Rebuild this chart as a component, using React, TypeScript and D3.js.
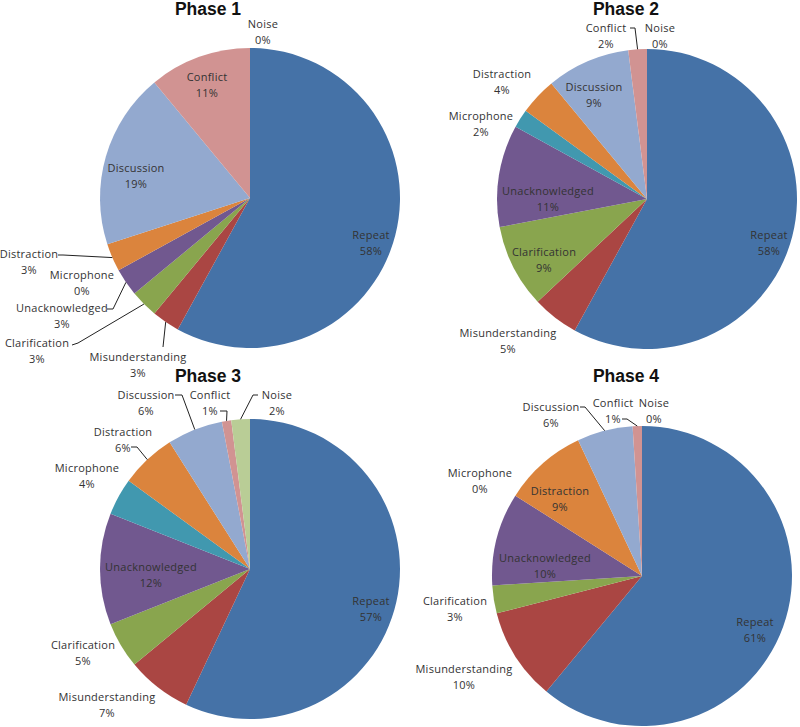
import React from "react";
import * as d3 from "d3";

const categories = ["Repeat", "Misunderstanding", "Clarification", "Unacknowledged", "Microphone", "Distraction", "Discussion", "Conflict", "Noise"];
const phase1 = [58, 3, 3, 3, 0, 3, 19, 11, 0];
const phase2 = [58, 5, 9, 11, 2, 4, 9, 2, 0];
const phase3 = [57, 7, 5, 12, 4, 6, 6, 1, 2];
const phase4 = [61, 10, 3, 10, 0, 9, 6, 1, 0];
const phaseTitles = ["Phase 1", "Phase 2", "Phase 3", "Phase 4"];
const colors = ["#4572A7", "#AA4643", "#89A54E", "#71588F", "#4198AF", "#DB843D", "#93A9CF", "#D19392", "#B9CD96"];

// layout (positions relative to pie centre)
const centers: [number, number][] = [[250, 198], [647, 199], [250, 569], [642, 576]];
const titlePos: [number, number][] = [[208, 15], [626, 15], [208, 382], [626, 382]];
const labelPos: [number, number][][] = [
  [[121, 37], [-112, 159], [-213, 145], [-188, 110], [-168, 77], [-221, 56], [-114, -30], [-43, -121], [13, -174]],
  [[122, 36], [-139, 134], [-103, 53], [-99, -8], [-166, -83], [-145, -125], [-53, -112], [-41, -171], [13, -171]],
  [[121, 32], [-143, 128], [-167, 76], [-99, -2], [-163, -101], [-127, -137], [-104, -174], [-40, -174], [27, -174]],
  [[113, 46], [-178, 93], [-187, 25], [-97, -18], [-162, -103], [-82, -85], [-91, -169], [-29, -173], [12, -173]],
];
// leader lines: [phase, category index, points near label]
const leaders: [number, number, [number, number][]][] = [
  [0, 5, [[-192, 57], [-187, 57]]],
  [0, 3, [[-143, 111], [-137, 111]]],
  [0, 2, [[-178, 147], [-172, 145]]],
  [0, 1, [[-87, 149]]],
  [1, 7, [[-17, -171], [-12, -171]]],
  [2, 6, [[-75, -174], [-68, -174]]],
  [2, 7, [[-30, -158], [-23, -158]]],
  [2, 8, [[8, -174], [3, -174]]],
  [2, 5, [[-119, -122], [-113, -122]]],
  [3, 6, [[-62, -169], [-57, -169]]],
  [3, 7, [[-20, -157], [-15, -157]]],
];

const phases = [phase1, phase2, phase3, phase4];
const R = 150;

export default function App() {
  const pie = d3.pie<number>().sort(null).value((d) => d).startAngle(0).endAngle(2 * Math.PI);
  const arc = d3.arc<d3.PieArcDatum<number>>().innerRadius(0).outerRadius(R);
  const labelFont = "'Open Sans', 'Liberation Sans', Arial, sans-serif";

  return (
    <svg width={800} height={727} style={{ position: "absolute", left: 0, top: 0, background: "#fff" }}>
      {phases.map((vals, pi) => {
        const [cx, cy] = centers[pi];
        const arcs = pie(vals);
        return (
          <g key={pi}>
            <text x={titlePos[pi][0]} y={titlePos[pi][1]} textAnchor="middle" fontFamily="'Liberation Sans', Arial, sans-serif" fontWeight="bold" fontSize={17.5} fill="#111">
              {phaseTitles[pi]}
            </text>
            <g transform={`translate(${cx},${cy})`}>
              {arcs.map((a, i) => (
                <path key={i} d={arc(a) || ""} fill={colors[i]} />
              ))}
              {leaders.filter((l) => l[0] === pi).map((l, k) => {
                const a = arcs[l[1]];
                const mid = (a.startAngle + a.endAngle) / 2;
                const end: [number, number] = [R * Math.sin(mid), -R * Math.cos(mid)];
                const pts = [...l[2], end];
                return <path key={k} d={d3.line()(pts) || ""} fill="none" stroke="#222" strokeWidth={1} />;
              })}
              {categories.map((c, i) => {
                const [lx, ly] = labelPos[pi][i];
                return (
                  <text key={c} x={lx} y={ly + 4} textAnchor="middle" fontFamily={labelFont} fontSize={11} letterSpacing={0.25} fill="#333">
                    <tspan x={lx}>{c}</tspan>
                    <tspan x={lx} dy={15.5}>{vals[i] + "%"}</tspan>
                  </text>
                );
              })}
            </g>
          </g>
        );
      })}
    </svg>
  );
}
